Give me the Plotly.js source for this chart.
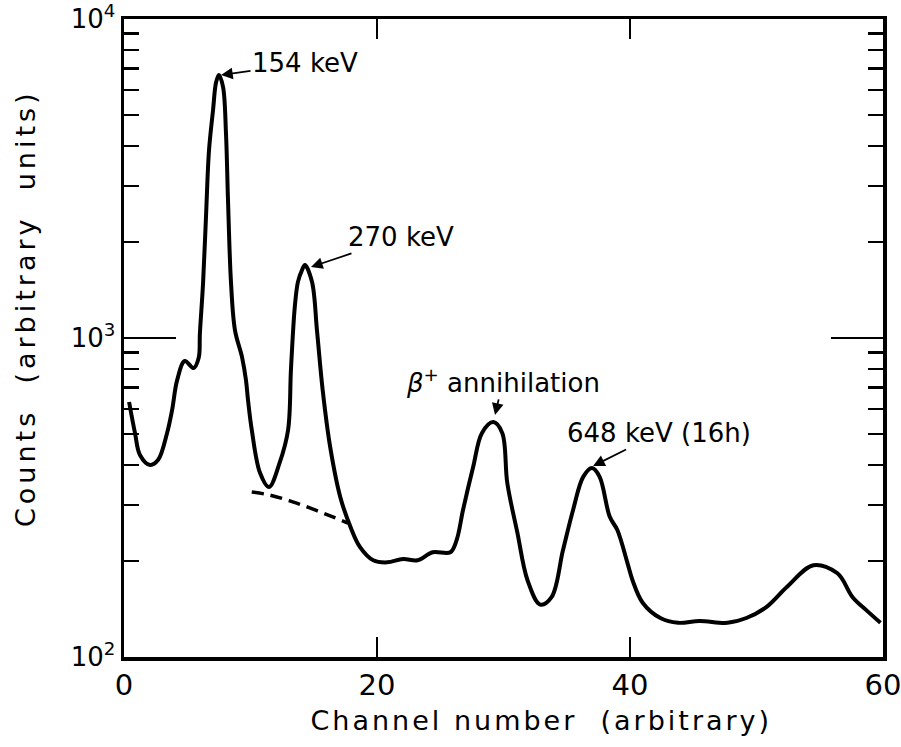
<!DOCTYPE html>
<html><head><meta charset="utf-8">
<script src="https://cdn.plot.ly/plotly-3.0.1.min.js"></script>
<style>
html,body{margin:0;padding:0;background:#fff}
g.annotation[data-index="4"] text{letter-spacing:4px}
g.annotation[data-index="5"] text{letter-spacing:3px}
</style>
</head><body><div id="chart" style="width:901px;height:747px"></div>
<script>
// Spectrum
const channel = [0.4, 0.87, 1.26, 2.06, 2.7, 3.4, 3.8, 4.2, 4.8, 5.5, 5.9, 6.0, 6.25, 6.48, 6.72, 7.04, 7.27, 7.5, 7.83, 8.06, 8.22, 8.46, 8.77, 9.33, 9.64, 9.8, 10.1, 10.75, 11.46, 12.3, 12.97, 13.2, 13.5, 13.75, 14.07, 14.3, 14.86, 15.26, 15.7, 16.3, 17.1, 17.9, 18.66, 19.7, 20.8, 22.06, 23.2, 24.4, 25.8, 26.3, 26.8, 27.6, 28.3, 29.2, 29.9, 30.3, 31.1, 31.9, 32.9, 33.8, 34.7, 35.5, 36.3, 37.0, 37.6, 38.4, 39.0, 39.8, 40.2, 41.0, 42.4, 43.8, 45.5, 47.7, 49.2, 50.8, 52.4, 54.5, 56.4, 57.6, 58.7, 59.8];
const counts = [630, 503, 430, 400, 415, 503, 594, 738, 847, 805, 865, 1037, 1486, 2393, 3880, 5190, 6310, 6680, 6120, 4395, 2712, 1486, 1059, 871, 738, 640, 515, 378, 341, 406, 515, 800, 1250, 1500, 1633, 1694, 1500, 1050, 690, 455, 317, 256, 221, 201, 198, 203, 201, 213, 213, 233, 289, 394, 504, 545, 504, 351, 245, 174, 146, 154, 216, 289, 367, 391, 367, 275, 250, 197, 174, 148, 132.5, 128, 129.7, 128, 132.5, 143.6, 165.7, 194, 183, 154, 140, 128];
// Dashed background under the 270 keV peak
const bgChannel = [10.1, 11.5, 13.4, 15.5, 17.7];
const bgCounts = [329, 322, 306, 285, 263];

const xTickVals = [0, 20, 40, 60];
const yTickVals = [100, 1000, 10000];
const yTickText = ['10<sup>2</sup>', '10<sup>3</sup>', '10<sup>4</sup>'];
const yMinorVals = [200, 300, 400, 500, 600, 700, 800, 900, 2000, 3000, 4000, 5000, 6000, 7000, 8000, 9000];

const labelText = ['154 keV', '270 keV', '<i>β</i><sup>+</sup> annihilation', '648 keV (16h)'];
const peakX = [7.67, 14.78, 29.33, 37.08];
const peakY = [6670, 1670, 574, 397];
// pixel offsets of the label centre from the arrow tip
const labelDX = [84, 90, 8, 66];
const labelDY = [-12, -30, -34, -33];

const FONT = 'DejaVu Sans, Arial, sans-serif';

const annotations = [];
for (let i = 0; i < labelText.length; i++) {
  annotations.push({
    x: peakX[i], y: Math.log10(peakY[i]), xref: 'x', yref: 'y',
    ax: labelDX[i], ay: labelDY[i],
    text: labelText[i], showarrow: true, arrowhead: 2, arrowsize: 1.3, arrowwidth: 1.8, arrowcolor: '#000',
    font: {family: FONT, size: 26, color: '#000'}
  });
}
annotations.push({
  xref: 'paper', yref: 'paper', x: 0, y: 0.5, xshift: -99, yshift: 30, xanchor: 'center', yanchor: 'middle',
  text: 'Counts  (arbitrary  units)', showarrow: false, textangle: -90,
  font: {family: FONT, size: 27, color: '#000'}
});
annotations.push({
  xref: 'paper', yref: 'paper', x: 0.5, y: 0, xshift: 38, yshift: -63, yanchor: 'middle',
  text: 'Channel number  (arbitrary)', showarrow: false,
  font: {family: FONT, size: 27, color: '#000'}
});

const data = [
  {x: channel, y: counts, type: 'scatter', mode: 'lines',
   line: {color: '#000', width: 4, shape: 'spline', smoothing: 1}, hoverinfo: 'x+y'},
  {x: bgChannel, y: bgCounts, type: 'scatter', mode: 'lines',
   line: {color: '#000', width: 3.5, dash: '12px,7px', shape: 'spline'}, hoverinfo: 'x+y'}
];

const layout = {
  width: 901, height: 747,
  margin: {l: 124, r: 18, t: 19, b: 90},
  paper_bgcolor: '#fff', plot_bgcolor: '#fff',
  showlegend: false,
  xaxis: {
    range: [-0.001, 60.001], tickmode: 'array', tickvals: xTickVals,
    ticks: 'inside', ticklen: 20, tickwidth: 2.5, tickcolor: '#000',
    ticklabeloverflow: 'allow',
    showline: true, linecolor: '#000', linewidth: 3.5, mirror: 'ticks',
    showgrid: false, zeroline: false,
    tickfont: {family: FONT, size: 29, color: '#000'}
  },
  yaxis: {
    type: 'log', range: [2, 4], tickmode: 'array', tickvals: yTickVals, ticktext: yTickText,
    ticks: 'inside', ticklen: 52, tickwidth: 2, tickcolor: '#000',
    ticklabeloverflow: 'allow',
    minor: {tickmode: 'array', tickvals: yMinorVals, ticks: 'inside', ticklen: 15, tickwidth: 2.5, tickcolor: '#000', showgrid: false},
    showline: true, linecolor: '#000', linewidth: 3.5, mirror: 'ticks',
    showgrid: false, zeroline: false,
    tickfont: {family: FONT, size: 26, color: '#000'}
  },
  annotations: annotations
};

Plotly.newPlot('chart', data, layout, {displayModeBar: false, staticPlot: true});
</script>
</body></html>
